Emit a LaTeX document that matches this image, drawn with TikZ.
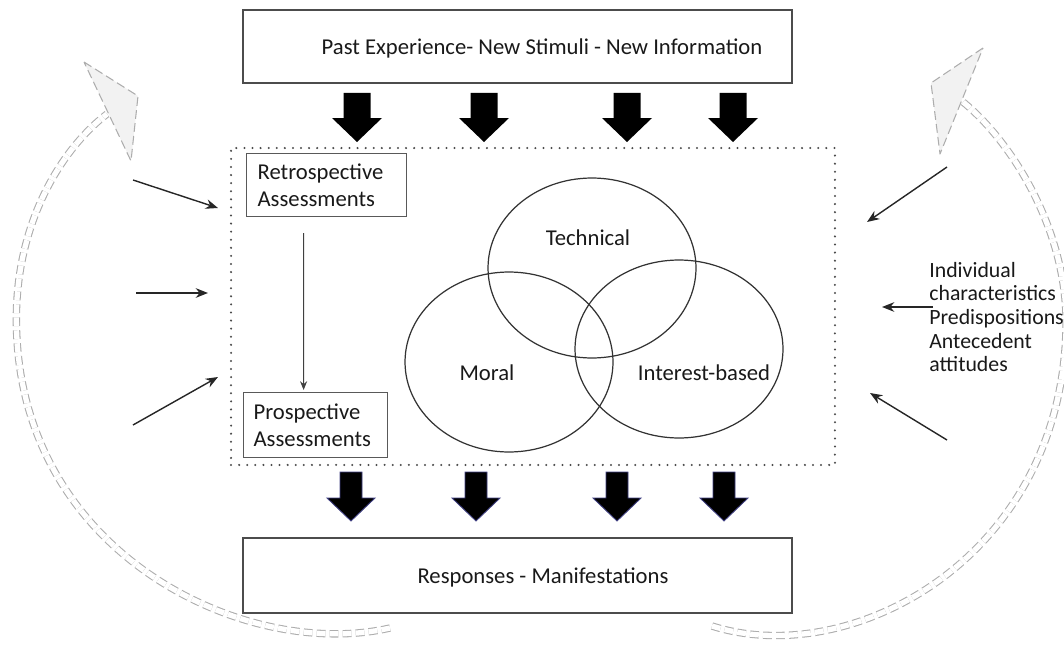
\documentclass[tikz,border=0pt]{standalone}
\usepackage{fontspec}
\setmainfont{Carlito}
\usetikzlibrary{positioning, arrows.meta, calc, shapes.geometric}
\tikzset{box node/.style={draw=black!70, line width=0.9pt, fill=white, inner sep=0pt},
	small box/.style={draw=black!65, line width=0.7pt, anchor=north west, align=left, inner ysep=0pt, font=\fontsize{12.9}{15.2}\selectfont},
	set node/.style={ellipse, draw=black!80, line width=0.7pt, minimum width=4.16cm, minimum height=3.6cm},
	side arrow/.style={-{Stealth[length=7pt, width=5.5pt]}, line width=0.8pt, black!85},
	loop arrow/.style={draw=black!32, line width=0.6pt, double=white, double distance=3pt, dash pattern=on 5pt off 2.4pt},
	loop head/.style={draw=black!32, fill=black!5, line width=0.6pt, dash pattern=on 5pt off 2.4pt, line join=round},}

\begin{document}
\begin{tikzpicture}[x=0.02cm, y=-0.02cm, font=\fontsize{12.9}{13.4}\selectfont, text=black!90]
				\useasboundingbox (0,0) rectangle (1064,652);
				% Feedback loops
				\draw[loop head] (84,62) -- (138,96) -- (131,161) -- cycle;
				\draw[loop arrow] (390,628) .. controls (250,660) and (30,560) .. (17,340)
					.. controls (10,230) and (60,150) .. (107,114);
				\draw[loop head] (983,48) -- (931,83) -- (940,154) -- cycle;
				\draw[loop arrow] (712,626) .. controls (850,670) and (1060,560) .. (1066,330)
					.. controls (1069,230) and (1010,140) .. (963,102);
				% Boxes
				\node[box node, minimum width=10.98cm, minimum height=1.46cm] (past) at (517.5,46.5) {};
				\node (pasttxt) at (542,48) {Past Experience- New Stimuli - New Information};
				\node[box node, minimum width=10.98cm, minimum height=1.5cm] (resp) at (517.5,575.5) {};
				\node (resptxt) at (543,577) {Responses - Manifestations};
				\node[draw=black!70, line width=1.3pt, dash pattern=on 0pt off 4.6pt, line cap=round, minimum width=12.08cm, minimum height=6.34cm] (core) at (533,306.5) {};
				\node[small box, text width=2.76cm, inner xsep=0.22cm, minimum height=1.26cm] (retro) at (246,153) {Retrospective\\Assessments};
				\node[small box, text width=2.48cm, inner xsep=0.2cm, minimum height=1.3cm] (pro) at (243,392) {Prospective\\Assessments};
				\draw[-{Stealth[length=5pt, width=4pt]}, line width=0.6pt, black!75] ($(retro.south)+(-23,16)$) -- ($(pro.north)+(-12,-2)$);
				% Sets
				\node[set node] (tech) at (592,268) {};
				\node[set node] (moral) at (509,362) {};
				\node[set node, minimum height=3.56cm] (inter) at (679,349) {};
				\node (techlbl) at (588,238) {Technical};
				\node (morallbl) at (487,373) {Moral};
				\node (interlbl) at (704,373) {Interest-based};
				% Block arrows
				\foreach \x in {357,484,627,733}
					\fill (\x-13.5,93) -- (\x+13.5,93) -- (\x+13.5,118) -- (\x+25,118) -- (\x,142) -- (\x-25,118) -- (\x-13.5,118) -- cycle;
				\foreach \x in {351,476,617,724}
					\filldraw[draw=blue!35!black!75, line width=0.5pt] (\x-11,472) -- (\x+11,472) -- (\x+11,498) -- (\x+24,498) -- (\x,521) -- (\x-24,498) -- (\x-11,498) -- cycle;
				% Influences
				\node[anchor=west, align=left, inner sep=0pt, font=\fontsize{12.4}{13.4}\selectfont] (traits) at (929,317) {Individual\\characteristics\\Predispositions\\Antecedent\\attitudes};
				\coordinate (l1) at (133,180); \coordinate (l1e) at (218,208);
				\coordinate (l2) at (136,293); \coordinate (l2e) at (208,293);
				\coordinate (l3) at (133,425); \coordinate (l3e) at (218,377);
				\coordinate (r1) at (947,167); \coordinate (r1e) at (867,222);
				\coordinate (r2) at (933,307); \coordinate (r2e) at (882,307);
				\coordinate (r3) at (947,440); \coordinate (r3e) at (870,393);
				\path[side arrow]
				(l1) edge (l1e)
				(l2) edge (l2e)
				(l3) edge (l3e)
				(r1) edge (r1e)
				(r2) edge (r2e)
				(r3) edge (r3e);
			\end{tikzpicture}
\end{document}
